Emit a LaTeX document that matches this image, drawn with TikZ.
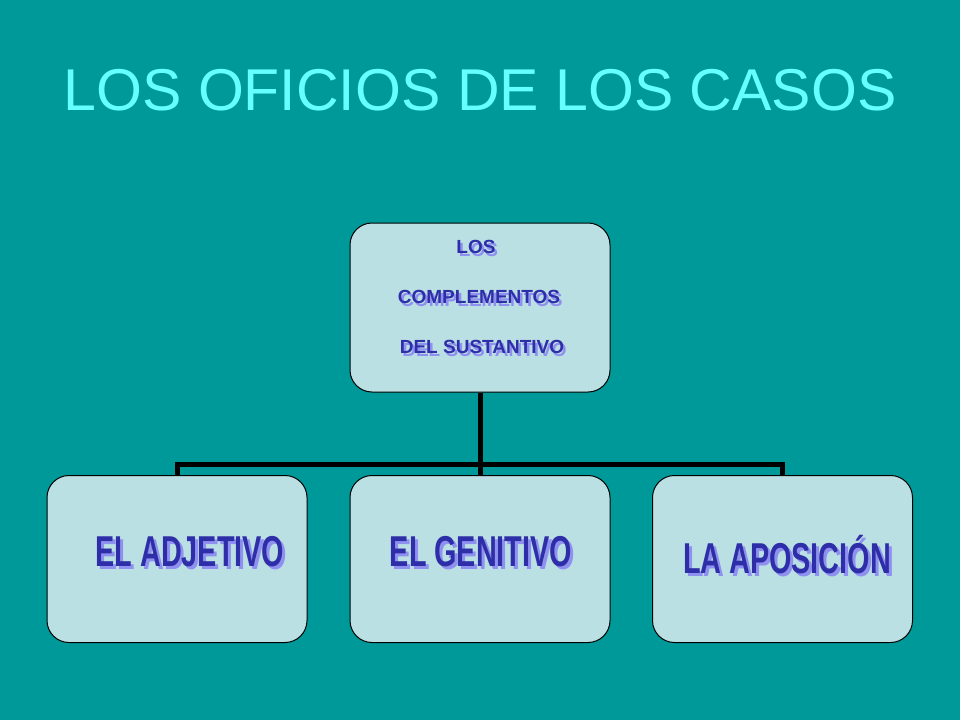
\documentclass[tikz,border=0pt]{standalone}
\usepackage{fontspec}
\setmainfont{Liberation Sans}
\begin{document}
\begin{tikzpicture}[x=1pt,y=-1pt,
  box/.style={draw=black,line width=1pt,fill=boxfill,rounded corners=22pt,minimum width=260pt,minimum height=167pt},
  wa/.style={text=waBlue,font=\bfseries},
  wash/.style={text=waShadow,font=\bfseries},
  conn/.style={line width=5pt}]
\definecolor{bg}{HTML}{009999}
\definecolor{boxfill}{HTML}{BBE0E3}
\definecolor{waBlue}{HTML}{2E2EA8}
\definecolor{waShadow}{HTML}{9090F0}
\definecolor{titlec}{HTML}{66FFFF}
\fill[bg] (0,0) rectangle (960,720);
\useasboundingbox (0,0) rectangle (960,720);
\node[text=titlec,font=\fontsize{59}{64}\selectfont] (title) at (480,90) {LOS OFICIOS DE LOS CASOS};
\node[box,minimum height=169pt] (top) at (480,307.5) {};
\node[box] (b1) at (177,559) {};
\node[box] (b2) at (480,559) {};
\node[box] (b3) at (782.5,559) {};
\coordinate (j) at (480,464);
\draw[conn] (top.south) -- (j);
\draw[conn] (b1.north) |- (j);
\draw[conn] (b3.north) |- (j);
\draw[conn] (j) -- (b2.north);
\foreach \t/\xx/\yy in {LOS/476/247, COMPLEMENTOS/479/297, DEL SUSTANTIVO/482/347}{
  \node[wash,font=\fontsize{19}{20}\selectfont\bfseries] at (\xx+2.5,\yy+2.5) {\t};
  \node[wa,font=\fontsize{19}{20}\selectfont\bfseries] at (\xx,\yy) {\t};
}
\foreach \t/\xx/\yy/\n in {EL ADJETIVO/190/552/l1, EL GENITIVO/481/552/l2, LA APOSICIÓN/787/555/l3}{
  \node[wash,font=\fontsize{48}{50}\selectfont\bfseries,xscale=0.6,yscale=0.9] at (\xx+3,\yy+3) {\t};
  \node[wa,font=\fontsize{48}{50}\selectfont\bfseries,xscale=0.6,yscale=0.9] (\n) at (\xx,\yy) {\t};
}
\end{tikzpicture}
\end{document}
